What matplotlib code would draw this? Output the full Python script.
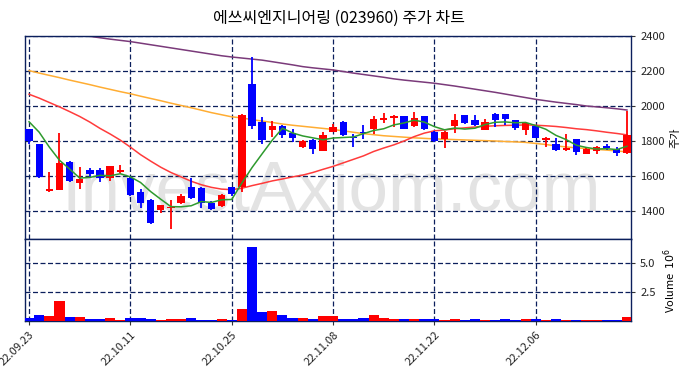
import numpy as np
import matplotlib
matplotlib.use('Agg')
import matplotlib.pyplot as plt

plt.rcParams['font.family'] = ['Noto Sans CJK KR', 'DejaVu Sans']

# 일봉 데이터
opens = [1867, 1781, 1516, 1522, 1680, 1562, 1632, 1632, 1587, 1623,
         1590, 1507, 1463, 1406, 1415, 1444, 1535, 1530, 1448, 1430,
         1535, 1539, 2126, 1907, 1863, 1886, 1848, 1764, 1806, 1745,
         1853, 1909, 1823, 1853, 1870, 1918, 1930, 1943, 1886, 1943,
         1851, 1813, 1886, 1947, 1918, 1863, 1956, 1952, 1918, 1863,
         1886, 1804, 1781, 1749, 1810, 1728, 1743, 1771, 1756, 1729]
highs = [1870, 1785, 1625, 1848, 1686, 1651, 1644, 1646, 1657, 1663,
         1595, 1526, 1468, 1436, 1463, 1495, 1590, 1535, 1460, 1500,
         1540, 1955, 2282, 1939, 1914, 1890, 1867, 1808, 1810, 1850,
         1899, 1912, 1842, 1890, 1943, 1962, 1948, 1945, 1966, 1945,
         1855, 1855, 1956, 1950, 1947, 1928, 1958, 1955, 1920, 1905,
         1888, 1825, 1815, 1838, 1812, 1766, 1770, 1785, 1766, 1971]
lows = [1785, 1588, 1510, 1520, 1566, 1524, 1587, 1566, 1571, 1615,
        1484, 1416, 1326, 1390, 1295, 1440, 1470, 1415, 1408, 1425,
        1485, 1510, 1869, 1783, 1825, 1815, 1796, 1760, 1724, 1740,
        1850, 1830, 1766, 1813, 1842, 1905, 1880, 1868, 1882, 1865,
        1793, 1758, 1848, 1895, 1886, 1860, 1882, 1891, 1863, 1832,
        1815, 1766, 1745, 1745, 1718, 1725, 1728, 1749, 1714, 1724]
closes = [1800, 1594, 1524, 1672, 1570, 1581, 1611, 1587, 1655, 1632,
          1491, 1448, 1330, 1434, 1423, 1487, 1476, 1448, 1413, 1494,
          1497, 1949, 1888, 1806, 1886, 1834, 1815, 1802, 1752, 1834,
          1880, 1834, 1815, 1848, 1924, 1930, 1943, 1870, 1930, 1867,
          1800, 1853, 1918, 1901, 1891, 1909, 1918, 1924, 1876, 1901,
          1819, 1815, 1749, 1758, 1739, 1756, 1766, 1762, 1733, 1834]
volumes = [0.29, 0.52, 0.43, 1.72, 0.34, 0.34, 0.17, 0.17, 0.26, 0.09,
           0.26, 0.26, 0.17, 0.09, 0.17, 0.17, 0.26, 0.09, 0.09, 0.17,
           0.09, 1.03, 6.38, 0.78, 0.86, 0.52, 0.26, 0.26, 0.17, 0.43,
           0.43, 0.17, 0.17, 0.26, 0.52, 0.26, 0.17, 0.17, 0.17, 0.17,
           0.17, 0.09, 0.17, 0.09, 0.17, 0.09, 0.09, 0.17, 0.09, 0.17,
           0.17, 0.09, 0.17, 0.09, 0.06, 0.06, 0.06, 0.06, 0.06, 0.34]  # 백만 주

# 이동평균선
ma5 = [1910, 1850, 1765, 1690, 1640, 1588, 1592, 1604, 1601, 1613,
       1595, 1563, 1511, 1467, 1425, 1424, 1430, 1454, 1449, 1464,
       1466, 1560, 1648, 1727, 1805, 1873, 1846, 1829, 1818, 1807,
       1817, 1820, 1823, 1842, 1860, 1870, 1892, 1903, 1919, 1908,
       1882, 1864, 1874, 1868, 1873, 1894, 1907, 1909, 1904, 1906,
       1888, 1867, 1832, 1808, 1776, 1763, 1754, 1756, 1751, 1770]
ma20 = [2067, 2045, 2020, 1995, 1968, 1940, 1908, 1872, 1840, 1805,
        1765, 1722, 1685, 1650, 1620, 1595, 1570, 1550, 1535, 1525,
        1522, 1530, 1545, 1558, 1572, 1583, 1595, 1605, 1620, 1638,
        1655, 1675, 1695, 1715, 1740, 1760, 1778, 1800, 1825, 1845,
        1858, 1863, 1870, 1875, 1880, 1884, 1887, 1889, 1890, 1892,
        1890, 1887, 1883, 1877, 1870, 1865, 1858, 1850, 1843, 1835]
ma60 = [2202, 2188, 2175, 2162, 2148, 2135, 2122, 2108, 2095, 2082,
        2070, 2056, 2043, 2030, 2016, 2003, 1990, 1976, 1962, 1950,
        1938, 1932, 1922, 1914, 1906, 1897, 1890, 1884, 1878, 1872,
        1866, 1858, 1850, 1842, 1836, 1830, 1826, 1822, 1818, 1815,
        1812, 1810, 1808, 1806, 1804, 1802, 1800, 1797, 1795, 1792,
        1786, 1780, 1772, 1766, 1761, 1757, 1752, 1748, 1743, 1738]
ma120 = [2445, 2437, 2430, 2422, 2415, 2407, 2398, 2390, 2382, 2375,
         2368, 2359, 2350, 2341, 2332, 2323, 2314, 2305, 2296, 2287,
         2280, 2274, 2268, 2262, 2253, 2244, 2235, 2225, 2218, 2212,
         2206, 2197, 2188, 2180, 2172, 2164, 2155, 2148, 2142, 2136,
         2130, 2122, 2114, 2105, 2096, 2087, 2078, 2068, 2058, 2048,
         2038, 2030, 2022, 2015, 2008, 2000, 1995, 1990, 1984, 1977]

tick_idx = [0, 10, 20, 30, 40, 50]
tick_labels = ['22.09.23', '22.10.11', '22.10.25', '22.11.08', '22.11.22', '22.12.06']

navy = '#0b1f5c'
x = np.arange(len(closes))
o = np.array(opens)
c = np.array(closes)
up = c >= o
colors = np.where(up, '#ff0000', '#0000ff')

fig = plt.figure(figsize=(6.91, 3.78), dpi=100)
ax = fig.add_axes([0.0362, 0.3677, 0.8770, 0.5371])
axv = fig.add_axes([0.0362, 0.1508, 0.8770, 0.2169], sharex=ax)

# 워터마크
ax.text(0.505, 0.23, 'InvestAxiom.com', transform=ax.transAxes, ha='center', va='center',
        fontsize=51, color='#dcdcdc', alpha=0.8, zorder=0, family='Liberation Sans',
        clip_on=True)

# 이동평균선
ax.plot(x, ma120, color='#7a3a7a', lw=1.1, zorder=2)
ax.plot(x, ma60, color='#ffad33', lw=1.1, zorder=2)
ax.plot(x, ma20, color='#ff3b3b', lw=1.1, zorder=2)
ax.plot(x, ma5, color='#2e9a2e', lw=1.1, zorder=4)

# 캔들
ax.vlines(x, lows, highs, colors=colors, lw=1.3, zorder=3)
body = np.maximum(np.abs(c - o), 5)
ax.bar(x, body, bottom=np.minimum(o, c), width=0.72, color=colors, zorder=3)

ax.set_ylim(1240, 2400)
ax.set_xlim(-0.4, 59.4)
ax.set_yticks([1400, 1600, 1800, 2000, 2200, 2400])
ax.yaxis.tick_right()
ax.yaxis.set_label_position('right')
ax.set_ylabel('주가', fontsize=8)
ax.tick_params(axis='x', labelbottom=False, length=0)

# 거래량
axv.bar(x, volumes, width=1.0, color=colors, zorder=3)
axv.set_ylim(0, 7.07)
axv.set_yticks([2.5, 5.0])
axv.set_yticklabels(['2.5', '5.0'])
axv.yaxis.tick_right()
axv.yaxis.set_label_position('right')
axv.set_ylabel('Volume  $10^{6}$', fontsize=8)
axv.set_xticks(tick_idx)
axv.set_xticklabels(tick_labels, rotation=45, ha='right', rotation_mode='anchor')

for a in (ax, axv):
    a.grid(True, color=navy, ls=(0, (4, 2)), lw=0.9)
    a.set_axisbelow(True)
    for s in a.spines.values():
        s.set_color(navy)
        s.set_linewidth(1.0)
    a.tick_params(labelsize=8, colors='#333333', direction='out', length=3)
    for t in a.get_yticklabels() + a.get_xticklabels():
        t.set_color('#222222')

fig.suptitle('에쓰씨엔지니어링 (023960) 주가 차트', x=0.49, y=0.975, fontsize=11.5,
             fontweight='medium')

fig.savefig('out.png', dpi=100)
